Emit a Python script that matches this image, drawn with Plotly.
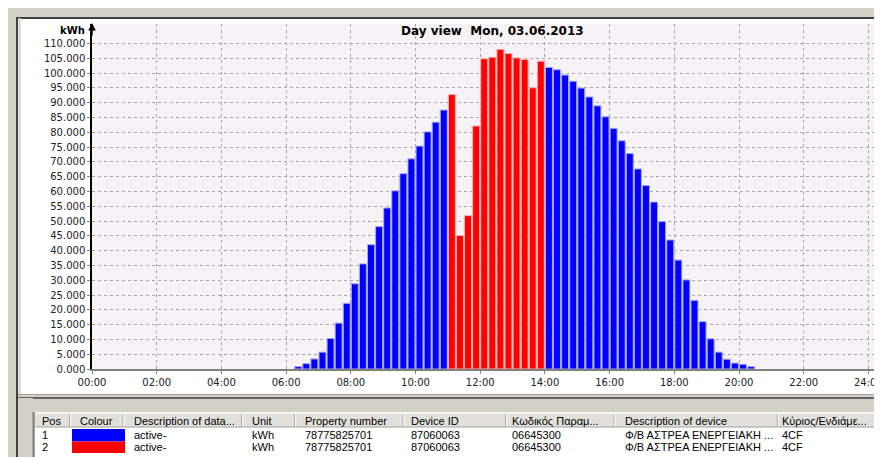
import plotly.graph_objects as go

# ---------------- data ----------------
times_active_1 = ["06:15", "06:30", "06:45", "07:00", "07:15", "07:30", "07:45", "08:00",
                  "08:15", "08:30", "08:45", "09:00", "09:15", "09:30", "09:45", "10:00",
                  "10:15", "10:30", "10:45",
                  "14:00", "14:15", "14:30", "14:45", "15:00", "15:15", "15:30", "15:45",
                  "16:00", "16:15", "16:30", "16:45", "17:00", "17:15", "17:30", "17:45",
                  "18:00", "18:15", "18:30", "18:45", "19:00", "19:15", "19:30", "19:45",
                  "20:00", "20:15"]
kwh_active_1 = [0.8, 1.8, 3.4, 5.7, 10.3, 15.5, 22.2, 28.8,
                35.5, 42.0, 48.1, 54.4, 60.2, 66.0, 71.0, 75.3,
                80.1, 83.4, 87.5,
                101.9, 101.1, 99.3, 97.2, 94.9, 91.9, 88.9, 85.2,
                81.3, 77.1, 72.8, 67.6, 62.0, 56.4, 49.8, 43.6,
                36.8, 30.1, 23.2, 16.0, 10.2, 5.7, 3.3, 2.0,
                1.6, 0.8]

times_active_2 = ["11:00", "11:15", "11:30", "11:45", "12:00", "12:15",
                  "12:30", "12:45", "13:00", "13:15", "13:30", "13:45"]
kwh_active_2 = [92.7, 45.1, 51.8, 82.1, 104.8, 105.3,
                108.0, 106.6, 105.1, 104.6, 95.0, 104.0]

series_colors = ["#0000ff", "#ff0000"]

y_tick_values = [0, 5, 10, 15, 20, 25, 30, 35, 40, 45, 50, 55,
                 60, 65, 70, 75, 80, 85, 90, 95, 100, 105, 110]
x_tick_hours = [0, 2, 4, 6, 8, 10, 12, 14, 16, 18, 20, 22, 24]
x_tick_labels = ["00:00", "02:00", "04:00", "06:00", "08:00", "10:00", "12:00",
                 "14:00", "16:00", "18:00", "20:00", "22:00", "24:00"]

title_text = "Day view\u00a0 Mon, 03.06.2013"
unit_text = "kWh"

table_headers = ["Pos", "Colour", "Description of data...", "Unit", "Property number",
                 "Device ID", "Κωδικός Παραμ...", "Description of device", "Κύριος/Ενδιάμε..."]
table_rows = [
    ["1", "", "active-", "kWh", "78775825701", "87060063", "06645300",
     "Φ/Β ΑΣΤΡΕΑ ΕΝΕΡΓΕΙΑΚΗ ...", "4CF"],
    ["2", "", "active-", "kWh", "78775825701", "87060063", "06645300",
     "Φ/Β ΑΣΤΡΕΑ ΕΝΕΡΓΕΙΑΚΗ ...", "4CF"],
]


def to_hours(t):
    h, m = t.split(":")
    return int(h) + int(m) / 60.0


# ---------------- geometry helpers (screen pixels -> paper) ----------------
OFF = 8                       # page body margin of the html page
W, H = 882 - OFF, 457 - OFF   # figure size so that it fills the window
L, R, T, B = 92, 882, 24, 369  # plot area in screen pixels


def fx(x):
    return (x - L) / (R - L)


def fy(y):
    return (B - y) / (B - T)


fig = go.Figure()

bar_edges = ["#a8a8ff", "#ffb0b0"]
for times, vals, col, edge in [(times_active_1, kwh_active_1, series_colors[0], bar_edges[0]),
                               (times_active_2, kwh_active_2, series_colors[1], bar_edges[1])]:
    fig.add_trace(go.Bar(
        x=[to_hours(t) for t in times], y=vals,
        width=0.215, offset=0.017,
        marker=dict(color=col, line=dict(color=edge, width=1)),
        showlegend=False, hoverinfo="x+y",
    ))

x_max = (R - L) / 32.35
y_max = (B - T) / 2.96

fig.update_layout(
    width=W, height=H,
    margin=dict(l=L - OFF, r=0, t=T - OFF, b=457 - B, pad=0),
    paper_bgcolor="#ffffff",
    plot_bgcolor="#f6f2f6",
    barmode="overlay",
    showlegend=False,
    font=dict(family="DejaVu Sans", size=10, color="#222222"),
    xaxis=dict(
        range=[0, x_max], tickmode="array", tickvals=x_tick_hours, ticktext=x_tick_labels,
        showgrid=True, gridcolor="#a8a8a8", griddash="3px,3px", gridwidth=1,
        showline=True, linecolor="#808080", linewidth=2,
        ticks="outside", ticklen=3, tickcolor="#808080",
        ticklabeloverflow="allow",
        zeroline=False, tickfont=dict(family="DejaVu Sans", size=10, color="#222222"),
    ),
    yaxis=dict(
        range=[0, y_max], tickmode="array", tickvals=y_tick_values, tickformat=".3f",
        showgrid=True, gridcolor="#a8a8a8", griddash="3px,3px", gridwidth=1,
        showline=True, linecolor="#000000", linewidth=1.5,
        ticks="outside", ticklen=3, tickcolor="#808080",
        zeroline=False, tickfont=dict(family="DejaVu Sans", size=10, color="#222222"),
    ),
)

shapes = []


def rect(x0, y0, x1, y1, fill, line_color=None, lw=0):
    shapes.append(dict(type="rect", xref="paper", yref="paper",
                       x0=fx(x0), x1=fx(x1), y0=fy(y0), y1=fy(y1),
                       fillcolor=fill, line=dict(color=line_color or fill, width=lw),
                       layer="above"))


def hline(x0, x1, y, color, w=1):
    shapes.append(dict(type="line", xref="paper", yref="paper",
                       x0=fx(x0), x1=fx(x1), y0=fy(y), y1=fy(y),
                       line=dict(color=color, width=w), layer="above"))


def vline(x, y0, y1, color, w=1):
    shapes.append(dict(type="line", xref="paper", yref="paper",
                       x0=fx(x), x1=fx(x), y0=fy(y0), y1=fy(y1),
                       line=dict(color=color, width=w), layer="above"))


GRAY = "#d4d0c8"
# window chrome: top and left
rect(OFF, OFF, 882, 17, GRAY)
rect(OFF, OFF, 16, 457, GRAY)
hline(16, 882, 18, "#404040", 2)
vline(17, 18, 457, "#404040", 2)
vline(19.5, 18, 457, GRAY, 2)
# bottom split panel
rect(18, 394, 882, 412, GRAY)
hline(18, 882, 394.5, "#a0a0a0", 1)
hline(18, 882, 398, "#404040", 1.5)
rect(18, 398, 33, 457, GRAY)
vline(33, 412, 457, "#808080", 1)
vline(34, 412, 457, "#404040", 1)
# table header
col_x = [35, 70.7, 124, 242.7, 295.7, 404, 506.7, 615, 778.3, 882]
rect(35, 413, 882, 427, "#e2e0da")
hline(35, 882, 413, "#ffffff", 1)
hline(35, 882, 427, "#a0a0a0", 1)
for cx in col_x[1:-1]:
    vline(cx - 1, 414, 426, "#a0a0a0", 1)
    vline(cx, 414, 426, "#ffffff", 1)
# colour swatches
swatch_y = [(429, 441.5), (441.5, 453)]
for (y0, y1), col in zip(swatch_y, series_colors):
    rect(72, y0, 125, y1, col)

# y axis arrow head
annotations = [
    dict(xref="paper", yref="paper", x=fx(92), y=fy(23), ax=0, ay=14, text="",
         showarrow=True, arrowhead=2, arrowsize=1, arrowwidth=1.5, arrowcolor="#000000"),
    dict(xref="paper", yref="paper", x=fx(492), y=fy(31), text="<b>" + title_text + "</b>",
         showarrow=False, xanchor="center", yanchor="middle",
         font=dict(family="DejaVu Sans", size=12, color="#000000")),
    dict(xref="paper", yref="paper", x=fx(87), y=fy(30), text="<b>" + unit_text + "</b>",
         showarrow=False, xanchor="right", yanchor="middle",
         font=dict(family="DejaVu Sans", size=10, color="#000000")),
]

text_x = [40, 78, 132, 250, 303, 409, 510, 623, 780]
tfont = dict(family="Liberation Sans", size=11, color="#000000")
for hx, htxt in zip(text_x, table_headers):
    annotations.append(dict(xref="paper", yref="paper", x=fx(hx), y=fy(420.5), text=htxt,
                            showarrow=False, xanchor="left", yanchor="middle", font=tfont))
row_y = [434.5, 446.5]
for ry, row in zip(row_y, table_rows):
    for hx, txt in zip(text_x, row):
        if txt:
            annotations.append(dict(xref="paper", yref="paper", x=fx(hx), y=fy(ry), text=txt,
                                    showarrow=False, xanchor="left", yanchor="middle", font=tfont))

fig.update_layout(shapes=shapes, annotations=annotations)

fig.write_html("out.html")
